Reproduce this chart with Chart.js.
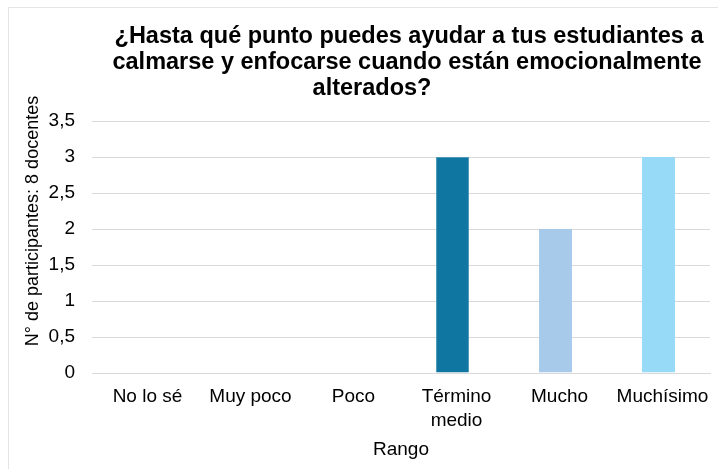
<!DOCTYPE html>
<html>
<head>
<meta charset="utf-8">
<script src="https://cdn.jsdelivr.net/npm/chart.js@4"></script>
<style>
  html, body { margin: 0; padding: 0; background: #fff; }
  #wrap { width: 718px; height: 469px; position: relative; }
</style>
</head>
<body>
<div id="wrap"><canvas id="c" width="718" height="469"></canvas></div>
<script>
// Survey answers: number of teachers per response level
const categories = ['No lo sé', 'Muy poco', 'Poco', ['Término', 'medio'], 'Mucho', 'Muchísimo'];
const participants = [0, 0, 0, 3, 2, 3];
const barColors = ['#0E76A0', '#0E76A0', '#0E76A0', '#0E76A0', '#A7CAEB', '#97DAF7'];
const titleLines = ['¿Hasta qué punto puedes ayudar a tus estudiantes a', 'calmarse y enfocarse cuando están emocionalmente', 'alterados?'];
const yAxisTitle = 'N° de participantes: 8 docentes';
const xAxisTitle = 'Rango';
const yMax = 3.5;
const yStep = 0.5;

const FONT = '"Liberation Sans", Arial, sans-serif';

// Frame, heading and rotated y title drawn on the canvas
const decorations = {
  id: 'decorations',
  beforeDraw(chart) {
    const ctx = chart.ctx;
    ctx.save();
    ctx.fillStyle = '#ffffff';
    ctx.fillRect(0, 0, chart.width, chart.height);
    ctx.strokeStyle = '#E4E4E4';
    ctx.lineWidth = 1;
    ctx.strokeRect(8.5, 7.5, chart.width + 10, chart.height + 10);
    ctx.restore();
  },
  afterDraw(chart) {
    const ctx = chart.ctx;
    ctx.save();
    ctx.fillStyle = '#000000';
    ctx.font = 'bold 23.5px ' + FONT;
    ctx.textAlign = 'center';
    ctx.textBaseline = 'alphabetic';
    const centers = [409, 407, 372];
    const baselines = [43, 69, 95];
    titleLines.forEach((t, i) => ctx.fillText(t, centers[i], baselines[i]));

    ctx.font = '18px ' + FONT;
    ctx.translate(33, 221);
    ctx.rotate(-Math.PI / 2);
    ctx.textBaseline = 'middle';
    ctx.fillText(yAxisTitle, 0, 0);
    ctx.restore();
  }
};

new Chart(document.getElementById('c'), {
  type: 'bar',
  data: {
    labels: categories,
    datasets: [{
      data: participants,
      backgroundColor: barColors,
      borderColor: barColors.map((c, i) => i === 3 ? '#4C98B8' : c),
      borderWidth: 1,
      barPercentage: 0.32,
      categoryPercentage: 1.0
    }]
  },
  options: {
    responsive: false,
    animation: false,
    devicePixelRatio: 1,
    layout: { padding: { left: 0, top: 121, right: 8, bottom: 0 } },
    plugins: {
      legend: { display: false },
      title: { display: false },
      tooltip: { enabled: false }
    },
    scales: {
      x: {
        grid: { display: false, drawTicks: false },
        border: { display: true, color: '#D9D9D9', width: 1 },
        ticks: {
          color: '#000',
          font: { family: FONT, size: 19, lineHeight: 1.3 },
          padding: 11,
          labelOffset: 4,
          maxRotation: 0,
          autoSkip: false
        },
        title: {
          display: true,
          text: xAxisTitle,
          color: '#000',
          font: { family: FONT, size: 19 },
          padding: { top: 2, bottom: 8 }
        },
        afterFit(scale) { scale.height = 96; }
      },
      y: {
        min: 0,
        max: yMax,
        grid: { color: '#D9D9D9', lineWidth: 1, drawTicks: false },
        border: { display: false },
        ticks: {
          stepSize: yStep,
          color: '#000',
          font: { family: FONT, size: 19 },
          padding: 17,
          callback: v => String(v).replace('.', ',')
        },
        afterFit(scale) { scale.width = 92; }
      }
    }
  },
  plugins: [decorations]
});
</script>
</body>
</html>
